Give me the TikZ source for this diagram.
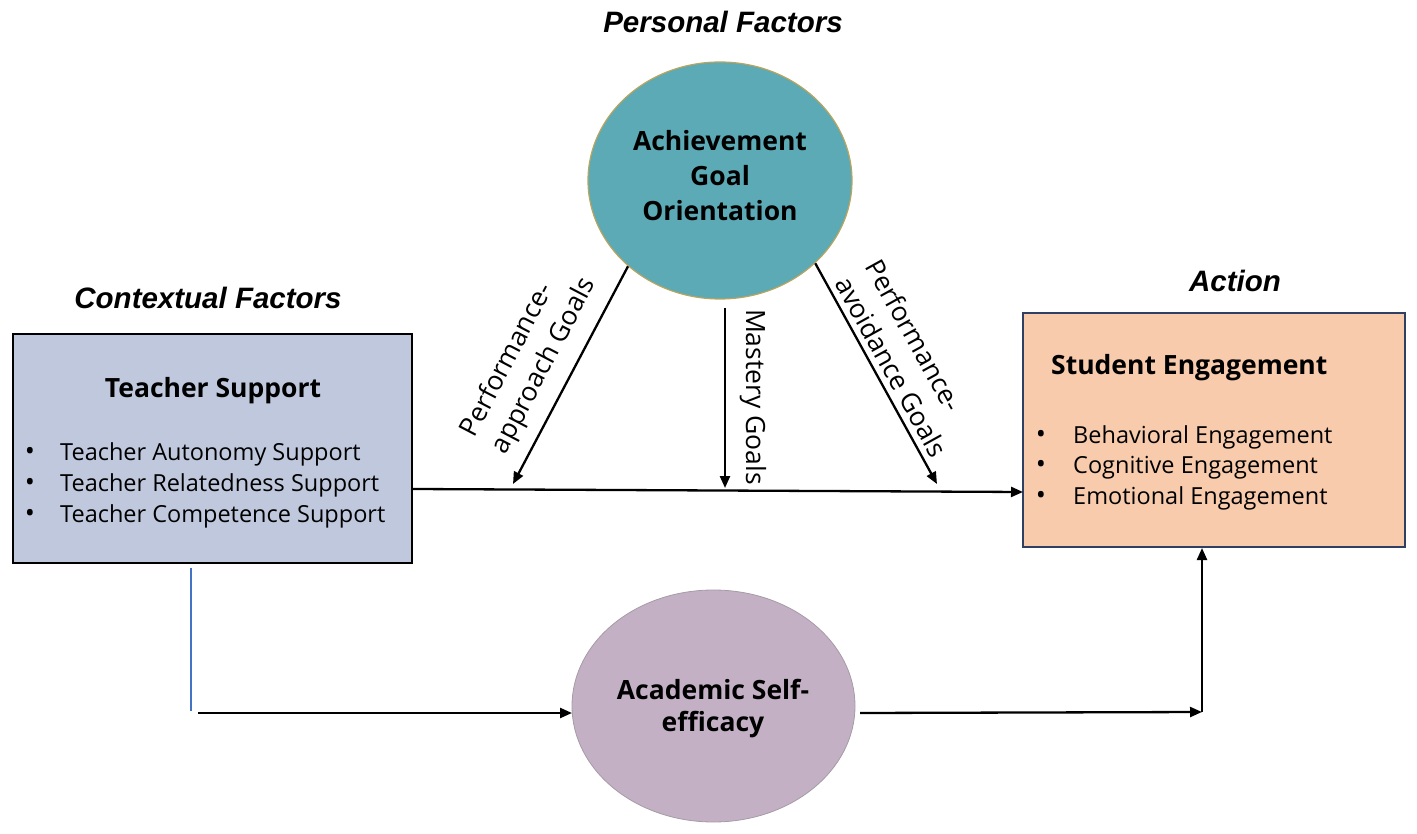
\documentclass[tikz,border=0pt]{standalone}
\usepackage{fontspec}
\setmainfont{Open Sans}
\newfontfamily\headfont{Liberation Sans}
\usetikzlibrary{arrows.meta,shapes.geometric,calc}
\definecolor{tsfill}{RGB}{191,200,221}
\definecolor{agofill}{RGB}{91,170,181}
\definecolor{agoline}{RGB}{185,165,95}
\definecolor{sefill}{RGB}{248,203,173}
\definecolor{seline}{RGB}{47,64,98}
\definecolor{asefill}{RGB}{195,176,196}
\definecolor{aseline}{RGB}{165,155,165}
\definecolor{blueline}{RGB}{68,114,196}
\tikzset{
  headtxt/.style={font=\headfont\bfseries\itshape\fontsize{29.5}{34}\selectfont, inner sep=0pt},
  boldtxt/.style={font=\bfseries\fontsize{26.5}{30}\selectfont, inner sep=0pt},
  bodytxt/.style={font=\fontsize{23.5}{26}\selectfont, inner sep=0pt},
  bultxt/.style={font=\fontsize{27}{26}\selectfont, inner sep=0pt},
  lbltxt/.style={font=\fontsize{26.5}{35}\selectfont, inner sep=0pt, align=left},
  conn/.style={line width=2.3pt, draw=black, -{Triangle[length=12pt,width=10pt]}},
}
\begin{document}
\begin{tikzpicture}[x=1pt,y=-1pt]
\useasboundingbox (0,0) rectangle (1417,834);

% headings
\node[headtxt] (hpf) at (723,22) {Personal Factors};
\node[headtxt] (hcf) at (208,298) {Contextual Factors};
\node[headtxt] (hac) at (1235,281) {Action};

% Teacher support box
\node[draw=black, line width=2pt, fill=tsfill, minimum width=399pt, minimum height=229pt, inner sep=0pt] (ts) at (212.5,448.5) {};
\node[boldtxt, anchor=base] (tst) at (213,397) {Teacher Support};
\node[bultxt, anchor=base] (tsb1) at (30,460) {•};
\node[bultxt, anchor=base] (tsb2) at (30,491) {•};
\node[bultxt, anchor=base] (tsb3) at (30,522) {•};
\node[bodytxt, anchor=base west] (tsi1) at (60,460) {Teacher Autonomy Support};
\node[bodytxt, anchor=base west] (tsi2) at (60,491) {Teacher Relatedness Support};
\node[bodytxt, anchor=base west] (tsi3) at (60,522) {Teacher Competence Support};

% Student engagement box
\node[draw=seline, line width=1.5pt, fill=sefill, minimum width=382pt, minimum height=234pt, inner sep=0pt] (se) at (1214,430) {};
\node[boldtxt, anchor=base west] (set) at (1051,375) {Student Engagement};
\node[bultxt, anchor=base] (seb1) at (1041,443) {•};
\node[bultxt, anchor=base] (seb2) at (1041,473) {•};
\node[bultxt, anchor=base] (seb3) at (1041,504) {•};
\node[bodytxt, anchor=base west] (sei1) at (1073,443) {Behavioral Engagement};
\node[bodytxt, anchor=base west] (sei2) at (1073,473) {Cognitive Engagement};
\node[bodytxt, anchor=base west] (sei3) at (1073,504) {Emotional Engagement};

% Achievement goal orientation
\node[ellipse, draw=agoline, line width=1.2pt, fill=agofill, minimum width=264pt, minimum height=237pt, inner sep=0pt] (ago) at (720,180.5) {};
\node[boldtxt, anchor=base] (agot1) at (720,151) {Achievement};
\node[boldtxt, anchor=base] (agot2) at (720,186) {Goal};
\node[boldtxt, anchor=base] (agot3) at (720,221) {Orientation};

% Academic self-efficacy
\node[ellipse, draw=aseline, line width=0.8pt, fill=asefill, minimum width=283pt, minimum height=232pt, inner sep=0pt] (ase) at (713.5,706) {};
\node[boldtxt, anchor=base] (aset1) at (713,699) {Academic Self-};
\node[boldtxt, anchor=base] (aset2) at (713,731) {efficacy};

% coordinates
\coordinate (hs) at (413,489);
\coordinate (he) at (1023,492);
\coordinate (pa) at (513,484);
\coordinate (mt) at (725,308);
\coordinate (mg) at (725,488);
\coordinate (pv) at (937,484);
\coordinate (bt) at (191,568);
\coordinate (bb) at (191,711);
\coordinate (ls) at (198,713);
\coordinate (le) at (572,713);
\coordinate (rs) at (860,713);
\coordinate (rc) at (1202,712);
\coordinate (rt) at (1202,548);

% connectors
\draw[conn] (hs) -- (he);
\draw[conn] (ago.223) -- (pa);
\draw[conn] (mt) -- (mg);
\draw[conn] (ago.319) -- (pv);
\draw[blueline, line width=2.2pt] (bt) -- (bb);
\draw[conn] (ls) -- (le);
\draw[conn] (rs) -- (rc);
\draw[conn] (rc) -- (rt);

% labels
\node[lbltxt, rotate=62.4] (lpa) at (529,358) {Performance-\\approach Goals};
\node[lbltxt, rotate=-90] (lmg) at (753,397) {Mastery Goals};
\node[lbltxt, rotate=-61] (lpv) at (907,358) {Performance-\\avoidance Goals};
\end{tikzpicture}
\end{document}
